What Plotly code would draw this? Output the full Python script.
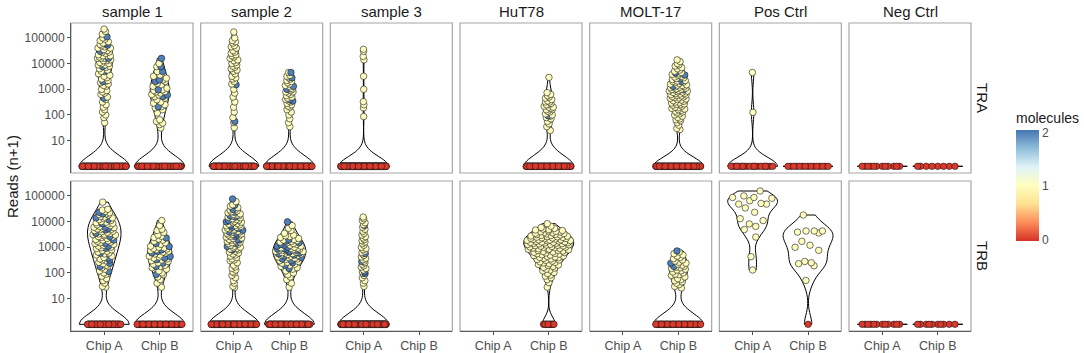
import numpy as np
import plotly.graph_objects as go

# ---------------------------------------------------------------- categories
SAMPLES = ["sample 1", "sample 2", "sample 3", "HuT78", "MOLT-17", "Pos Ctrl", "Neg Ctrl"]
CHAINS = ["TRA", "TRB"]
CHIPS = ["Chip A", "Chip B"]
Y_TICK_VALUES = [10, 100, 1000, 10000, 100000]
Y_TICK_LABELS = ["10", "100", "1000", "10000", "100000"]
MOLECULE_TICKS = [0, 1, 2]

# ---------------------------------------------------------------- data
# Reads (n+1) of cells with 1 molecule (m1) and with 2 molecules (m2)
tra_s1_a_m1 = [220000, 180000, 140000, 100000, 89000, 79000, 71000, 63000, 56000, 50000, 45000, 40000,
               40000, 35000, 32000, 28000, 28000, 25000, 22000, 20000, 20000, 20000, 18000, 16000, 16000,
               16000, 14000, 13000, 13000, 11000, 10000, 10000, 8900, 8900, 7900, 7100, 6300, 5600, 5000,
               4000, 3500, 3200, 2800, 2500, 2200, 2000, 1800, 1600, 1400, 1300, 1000, 890, 790, 710, 630,
               500, 400, 320, 250, 200, 160, 130, 100, 79, 50]
tra_s1_a_m2 = [110000, 62000, 52000, 30000, 16000, 7600, 4900, 2000, 450]
tra_s1_b_m1 = [10000, 7600, 4900, 3600, 3200, 2700, 2300, 2000, 1700, 1500, 1300, 1100, 950, 890, 810, 790,
               710, 630, 600, 520, 450, 390, 320, 290, 250, 210, 190, 160, 120, 65, 56, 48, 42, 31]
tra_s1_b_m2 = [16000, 7600, 4900, 2300, 2000, 950, 600, 520, 210]
tra_s2_a_m1 = [170000, 100000, 79000, 71000, 63000, 50000, 45000, 40000, 32000, 28000, 25000, 22000, 20000,
               18000, 16000, 14000, 13000, 11000, 10000, 8900, 7900, 7100, 6300, 5600, 5000, 4000, 3200,
               2800, 2500, 2000, 1600, 1000, 710, 500, 320, 200, 130, 79, 50, 32]
tra_s2_a_m2 = [1500, 56]
tra_s2_b_m1 = [4500, 3500, 3200, 2800, 2500, 2200, 2000, 1800, 1600, 1400, 1300, 1100, 1000, 1000, 890, 790,
               790, 710, 630, 560, 500, 450, 400, 350, 320, 280, 250, 220, 200, 160, 130, 100, 71, 50, 35]
tra_s2_b_m2 = [4500, 2800, 1300, 1000, 400, 350]
tra_s3_a_m1 = [36000, 30000, 19000, 14000, 3200, 1000, 330, 250, 190, 87]
tra_hut_b_m1 = [2900, 740, 630, 560, 500, 450, 400, 350, 320, 320, 280, 250, 250, 220, 200, 200, 180, 160,
                160, 140, 130, 110, 100, 89, 79, 71, 56, 45, 35, 25]
tra_hut_b_m2 = [93]
tra_molt_b_m1 = [14000, 12000, 10000, 9000, 8000, 7000, 6300, 5600, 5000, 4500, 4000, 3800, 3500, 3200, 3000,
                 2800, 2600, 2400, 2200, 2100, 2000, 1900, 1800, 1700, 1600, 1500, 1450, 1400, 1300, 1250,
                 1200, 1150, 1100, 1050, 1000, 980, 950, 900, 870, 850, 800, 780, 750, 700, 680, 650, 620,
                 600, 580, 550, 520, 500, 480, 460, 440, 420, 400, 380, 360, 340, 320, 300, 290, 270, 260,
                 250, 240, 220, 200, 190, 180, 170, 160, 150, 140, 130, 120, 110, 100, 90, 80, 70, 65, 60,
                 50, 40, 30, 27]
tra_molt_b_m2 = [4300, 3600, 2500, 2000, 1300, 950]
tra_pos_a_m1 = [4500, 126]

trb_s1_a_m1 = [57000, 30000, 28000, 25000, 22000, 20000, 19000, 18000, 16000, 15000, 14000, 13000, 12000,
               11000, 10000, 9500, 9000, 8500, 8000, 7500, 7000, 6500, 6000, 5800, 5500, 5200, 5000, 4800,
               4500, 4200, 4000, 3800, 3500, 3300, 3200, 3100, 3000, 2800, 2600, 2500, 2400, 2200, 2000,
               1900, 1800, 1700, 1600, 1500, 1400, 1300, 1200, 1100, 1000, 950, 900, 800, 750, 700, 650,
               600, 550, 500, 450, 400, 350, 320, 300, 260, 230, 200, 180, 160, 140, 120, 100, 90, 75, 60,
               50, 40, 30, 28]
trb_s1_a_m2 = [23000, 20000, 14000, 12000, 8300, 6000, 5400, 4700, 3500, 2600, 1900, 1400, 1100, 910, 590,
               380, 320, 240, 180, 115]
trb_s1_b_m1 = [11000, 7000, 5000, 4500, 3800, 3000, 2700, 2400, 2100, 1900, 1700, 1500, 1300, 1100, 1000,
               950, 900, 850, 800, 750, 700, 650, 600, 550, 500, 450, 420, 380, 350, 320, 300, 280, 250,
               220, 200, 180, 160, 140, 120, 100, 85, 70, 55, 40, 28]
trb_s1_b_m2 = [2300, 1400, 1070, 790, 680, 600, 440, 380, 330, 240, 180, 87]
trb_s2_a_m1 = [60000, 45000, 40000, 35000, 30000, 28000, 26000, 24000, 22000, 20000, 19000, 18000, 17000,
               16000, 15000, 14000, 13000, 12000, 11000, 10500, 10000, 9500, 9000, 8500, 8000, 7500, 7000,
               6800, 6500, 6000, 5500, 5200, 5000, 4700, 4500, 4200, 4000, 3800, 3500, 3300, 3200, 3000,
               2800, 2700, 2500, 2300, 2200, 2000, 1900, 1800, 1700, 1600, 1500, 1400, 1300, 1200, 1100,
               1000, 950, 900, 850, 800, 700, 650, 600, 550, 500, 450, 400, 350, 320, 300, 250, 200, 170,
               150, 130, 110, 100, 80, 65, 50, 40, 30, 27]
trb_s2_a_m2 = [76000, 43000, 30000, 23000, 17000, 15000, 11000, 9800, 7200, 6000, 5400, 4600, 4000, 3500,
               3000, 2600, 2000, 1900, 1400, 1070, 790]
trb_s2_b_m1 = [7000, 5500, 4500, 3500, 3000, 2800, 2600, 2400, 2200, 2000, 1900, 1800, 1700, 1600, 1500,
               1400, 1300, 1200, 1100, 1000, 950, 920, 900, 850, 800, 780, 750, 700, 680, 650, 620, 600,
               570, 550, 520, 500, 480, 450, 420, 400, 380, 350, 330, 300, 280, 260, 240, 220, 200, 180,
               160, 140, 120, 100, 85, 70, 55, 40, 28]
trb_s2_b_m2 = [9800, 2000, 1700, 1500, 1300, 1200, 1100, 1000, 900, 850, 800, 750, 700, 650, 600, 550, 500,
               450, 400, 350, 300, 250, 200, 150]
trb_s3_a_m1 = [15000, 13000, 11000, 9000, 7500, 6000, 5000, 4200, 3500, 3000, 2600, 2300, 2000, 1800, 1600,
               1400, 1200, 1000, 900, 800, 700, 620, 550, 480, 420, 370, 330, 290, 250, 220, 190, 170, 150,
               130, 110, 95, 80, 65, 50, 40, 30]
trb_s3_a_m2 = [7100, 570, 280, 110, 95]
trb_hut_b_m1 = [8300, 6600, 5900, 5400, 5100, 4900, 4700, 4500, 4300, 4200, 4050, 3950, 3800,
                3650, 3500, 3400, 3300, 3200, 3100, 3000, 2900, 2850, 2750, 2700, 2600, 2550, 2480, 2420,
                2350, 2300, 2250, 2200, 2150, 2080, 2020, 1980, 1940, 1900, 1860, 1820, 1780, 1740, 1700,
                1650, 1600, 1570, 1540, 1500, 1470, 1440, 1410, 1380, 1350, 1310, 1280, 1250, 1220, 1190,
                1160, 1130, 1100, 1070, 1040, 1010, 990, 960, 930, 900, 870, 850, 830, 800, 790, 760, 740,
                710, 690, 660, 640, 620, 600, 580, 560, 540, 510, 495, 475, 455, 440, 420, 400, 390, 370,
                350, 335, 320, 310, 290, 270, 255, 245, 230, 215, 205, 195, 180, 165, 155, 140, 130, 120,
                105, 95, 82, 75, 65, 55, 42, 28]
trb_molt_b_m1 = [650, 560, 500, 450, 400, 360, 320, 290, 260, 240, 220, 200, 180, 170, 160, 150, 140, 130,
                 120, 110, 100, 90, 85, 80, 70, 60, 55, 50, 45, 40, 35, 30, 26]
trb_molt_b_m2 = [720, 240, 180]
trb_pos_a_m1 = [155000, 100000, 87000, 87000, 81000, 65000, 51000, 48000, 48000, 34000, 23000, 13000, 11000,
                8100, 6500, 4900, 2500, 430, 130]
trb_pos_b_m1 = [18000, 4300, 4300, 4300, 3900, 3600, 1700, 1200, 1000, 760, 280, 250, 230, 190, 51]

# number of cells with 0 reads (0 molecules, plotted at Reads (n+1) = 1), per sample
TRA_ZERO_CHIP_A = [100, 100, 200, 0, 0, 20, 12]
TRA_ZERO_CHIP_B = [60, 130, 0, 110, 110, 15, 8]
TRB_ZERO_CHIP_A = [70, 130, 180, 0, 0, 0, 12]
TRB_ZERO_CHIP_B = [70, 85, 0, 15, 70, 1, 10]

ONE_MOLECULE = {
    ("TRA", "sample 1", "Chip A"): tra_s1_a_m1, ("TRA", "sample 1", "Chip B"): tra_s1_b_m1,
    ("TRA", "sample 2", "Chip A"): tra_s2_a_m1, ("TRA", "sample 2", "Chip B"): tra_s2_b_m1,
    ("TRA", "sample 3", "Chip A"): tra_s3_a_m1, ("TRA", "HuT78", "Chip B"): tra_hut_b_m1,
    ("TRA", "MOLT-17", "Chip B"): tra_molt_b_m1, ("TRA", "Pos Ctrl", "Chip A"): tra_pos_a_m1,
    ("TRB", "sample 1", "Chip A"): trb_s1_a_m1, ("TRB", "sample 1", "Chip B"): trb_s1_b_m1,
    ("TRB", "sample 2", "Chip A"): trb_s2_a_m1, ("TRB", "sample 2", "Chip B"): trb_s2_b_m1,
    ("TRB", "sample 3", "Chip A"): trb_s3_a_m1, ("TRB", "HuT78", "Chip B"): trb_hut_b_m1,
    ("TRB", "MOLT-17", "Chip B"): trb_molt_b_m1, ("TRB", "Pos Ctrl", "Chip A"): trb_pos_a_m1,
    ("TRB", "Pos Ctrl", "Chip B"): trb_pos_b_m1,
}
TWO_MOLECULES = {
    ("TRA", "sample 1", "Chip A"): tra_s1_a_m2, ("TRA", "sample 1", "Chip B"): tra_s1_b_m2,
    ("TRA", "sample 2", "Chip A"): tra_s2_a_m2, ("TRA", "sample 2", "Chip B"): tra_s2_b_m2,
    ("TRA", "HuT78", "Chip B"): tra_hut_b_m2, ("TRA", "MOLT-17", "Chip B"): tra_molt_b_m2,
    ("TRB", "sample 1", "Chip A"): trb_s1_a_m2, ("TRB", "sample 1", "Chip B"): trb_s1_b_m2,
    ("TRB", "sample 2", "Chip A"): trb_s2_a_m2, ("TRB", "sample 2", "Chip B"): trb_s2_b_m2,
    ("TRB", "sample 3", "Chip A"): trb_s3_a_m2, ("TRB", "MOLT-17", "Chip B"): trb_molt_b_m2,
}
ZEROS = {("TRA", "Chip A"): TRA_ZERO_CHIP_A, ("TRA", "Chip B"): TRA_ZERO_CHIP_B,
         ("TRB", "Chip A"): TRB_ZERO_CHIP_A, ("TRB", "Chip B"): TRB_ZERO_CHIP_B}

# ---------------------------------------------------------------- style
BANDWIDTH_DEFAULT = 0.42
BANDWIDTH = {("TRA", "sample 3", "Chip A"): 0.38, ("TRA", "Pos Ctrl", "Chip A"): 0.35,
             ("TRA", "MOLT-17", "Chip B"): 0.36,
             ("TRB", "HuT78", "Chip B"): 0.28, ("TRB", "Pos Ctrl", "Chip A"): 0.3,
             ("TRB", "Pos Ctrl", "Chip B"): 0.35}
COLORSCALE = [[0.0, "#D73027"], [1 / 6, "#FC8D59"], [2 / 6, "#FEE090"], [0.5, "#FFFFBF"],
              [4 / 6, "#E0F3F8"], [5 / 6, "#91BFDB"], [1.0, "#4575B4"]]
C_MIN, C_MAX = -0.03, 2.05
FONT = "Liberation Sans, Arial, sans-serif"
W, H = 1084, 353
COL_X0, COL_STEP, PANEL_W = 71.0, 129.67, 122.0
ROWS_PX = [(23.0, 173.0), (181.0, 331.0)]
Y_RANGE = [-0.26, 5.58]
HALF_WIDTH = 0.45


def vdc(k, base=2):
    v, denom = 0.0, 1.0
    while k:
        k, r = divmod(k, base)
        denom *= base
        v += r / denom
    return v


def kde(y, vals, bw):
    z = (np.asarray(y)[:, None] - vals[None, :]) / bw
    return np.exp(-0.5 * z * z).sum(axis=1) / (len(vals) * bw * np.sqrt(2 * np.pi))


fig = go.Figure()
layout_axes = {}
shapes = []
annotations = []
first_scatter = True

for r, chain in enumerate(CHAINS):
    for c, sample in enumerate(SAMPLES):
        idx = r * len(SAMPLES) + c + 1
        xn = "x" if idx == 1 else f"x{idx}"
        yn = "y" if idx == 1 else f"y{idx}"
        x0 = (COL_X0 + c * COL_STEP) / W
        x1 = (COL_X0 + c * COL_STEP + PANEL_W) / W
        top, bot = ROWS_PX[r]
        layout_axes["xaxis" if idx == 1 else f"xaxis{idx}"] = dict(
            domain=[x0, x1], anchor=yn, range=[-0.6, 1.6], type="linear",
            tickmode="array", tickvals=[0, 1], ticktext=CHIPS,
            showticklabels=(r == 1), ticks="outside" if r == 1 else "", ticklen=3,
            tickcolor="#4D4D4D", tickfont=dict(size=12.5, color="#4D4D4D"),
            showgrid=False, zeroline=False, showline=(r == 1), linecolor="#5A5A5A", linewidth=1,
            fixedrange=True)
        layout_axes["yaxis" if idx == 1 else f"yaxis{idx}"] = dict(
            domain=[1 - bot / H, 1 - top / H], anchor=xn, range=Y_RANGE,
            tickmode="array", tickvals=list(np.log10(Y_TICK_VALUES)), ticktext=Y_TICK_LABELS,
            showticklabels=(c == 0), ticks="outside" if c == 0 else "", ticklen=3,
            tickcolor="#4D4D4D", tickfont=dict(size=12, color="#4D4D4D"),
            showgrid=False, zeroline=False, showline=(c == 0), linecolor="#5A5A5A", linewidth=1,
            fixedrange=True)
        shapes.append(dict(type="rect", xref=f"{xn} domain", yref=f"{yn} domain", x0=0, x1=1, y0=0, y1=1,
                           line=dict(color="#A6A6A6", width=1.2), fillcolor="rgba(0,0,0,0)", layer="below"))

        groups = []
        for j, chip in enumerate(CHIPS):
            key = (chain, sample, chip)
            n0 = ZEROS[(chain, chip)][c]
            v1 = ONE_MOLECULE.get(key, [])
            v2 = TWO_MOLECULES.get(key, [])
            reads = np.array([1] * n0 + list(v1) + list(v2), dtype=float)
            mol = np.array([0] * n0 + [1] * len(v1) + [2] * len(v2), dtype=float)
            if len(reads) == 0:
                continue
            vals = np.log10(reads)
            bw = BANDWIDTH.get(key, BANDWIDTH_DEFAULT)
            flat = np.ptp(vals) == 0
            dmax = None
            if not flat:
                grid = np.linspace(vals.min(), vals.max(), 600)
                dmax = kde(grid, vals, bw).max()
            groups.append(dict(j=j, chip=chip, vals=vals, mol=mol, bw=bw, flat=flat, dmax=dmax))
        dmaxes = [g["dmax"] for g in groups if not g["flat"]]
        panel_max = max(dmaxes) if dmaxes else 1.0

        for g in groups:
            sg = f"{chain}|{sample}" + ("|" + g["chip"] + "|flat" if g["flat"] else "")
            vkw = dict(spanmode="hard")
            if g["flat"]:
                vkw = dict(spanmode="manual", span=[g["vals"][0], g["vals"][0] + 0.002])
            fig.add_trace(go.Violin(
                x=np.full(len(g["vals"]), g["j"]), y=g["vals"], xaxis=xn, yaxis=yn,
                orientation="v", width=0.9, scalegroup=sg, scalemode="width", bandwidth=g["bw"],
                points=False, line=dict(color="black", width=1), fillcolor="rgba(255,255,255,0)",
                box=dict(visible=False), meanline=dict(visible=False), hoverinfo="skip",
                showlegend=False, **vkw))

            # quasirandom (van der Corput) horizontal spread, scaled by the violin density
            order = np.argsort(g["vals"], kind="mergesort")
            vs = g["vals"][order]
            ms = g["mol"][order]
            u = np.array([2 * vdc(k + 1) - 1 for k in range(len(vs))])
            if g["flat"]:
                hw = np.full(len(vs), HALF_WIDTH)
            else:
                hw = HALF_WIDTH * kde(vs, g["vals"], g["bw"]) / panel_max
            xs = g["j"] + 0.92 * u * hw
            fig.add_trace(go.Scatter(
                x=xs, y=vs, xaxis=xn, yaxis=yn, mode="markers", hoverinfo="skip", showlegend=False,
                marker=dict(color=ms, colorscale=COLORSCALE, cmin=C_MIN, cmax=C_MAX, size=6.5,
                            line=dict(color="#1A1A1A", width=0.6), showscale=first_scatter,
                            colorbar=dict(
                                title=dict(text="molecules", side="top",
                                           font=dict(size=14, color="#1A1A1A", family=FONT)),
                                x=1016 / W, xanchor="left", y=1 - 175 / H, yanchor="middle",
                                len=132, lenmode="pixels", thickness=23, outlinewidth=0,
                                ticks="", tickvals=MOLECULE_TICKS, xpad=0, ypad=0,
                                tickfont=dict(size=12, color="#4D4D4D", family=FONT)))))
            first_scatter = False

    annotations.append(dict(text=chain, x=983 / W, y=1 - (sum(ROWS_PX[r]) / 2) / H, xref="paper",
                            yref="paper", showarrow=False, textangle=90, xanchor="center",
                            yanchor="middle", font=dict(size=15, color="#1A1A1A")))

for c, sample in enumerate(SAMPLES):
    annotations.append(dict(text=sample, x=(COL_X0 + c * COL_STEP + PANEL_W / 2) / W, y=1 - 11.5 / H,
                            xref="paper", yref="paper", showarrow=False, xanchor="center",
                            yanchor="middle", font=dict(size=15, color="#1A1A1A")))
annotations.append(dict(text="Reads (n+1)", x=12 / W, y=1 - 177 / H, xref="paper", yref="paper",
                        showarrow=False, textangle=-90, xanchor="center", yanchor="middle",
                        font=dict(size=15, color="#1A1A1A")))

fig.update_layout(
    width=W, height=H, autosize=False, margin=dict(l=0, r=0, t=0, b=0),
    paper_bgcolor="white", plot_bgcolor="white", font=dict(family=FONT),
    violinmode="overlay", showlegend=False, shapes=shapes, annotations=annotations,
    **layout_axes)

fig.write_html("out.html", config={"displayModeBar": False},
               post_script="document.body.style.margin='0';document.body.style.padding='0';"
                           "document.body.style.overflow='hidden';")
